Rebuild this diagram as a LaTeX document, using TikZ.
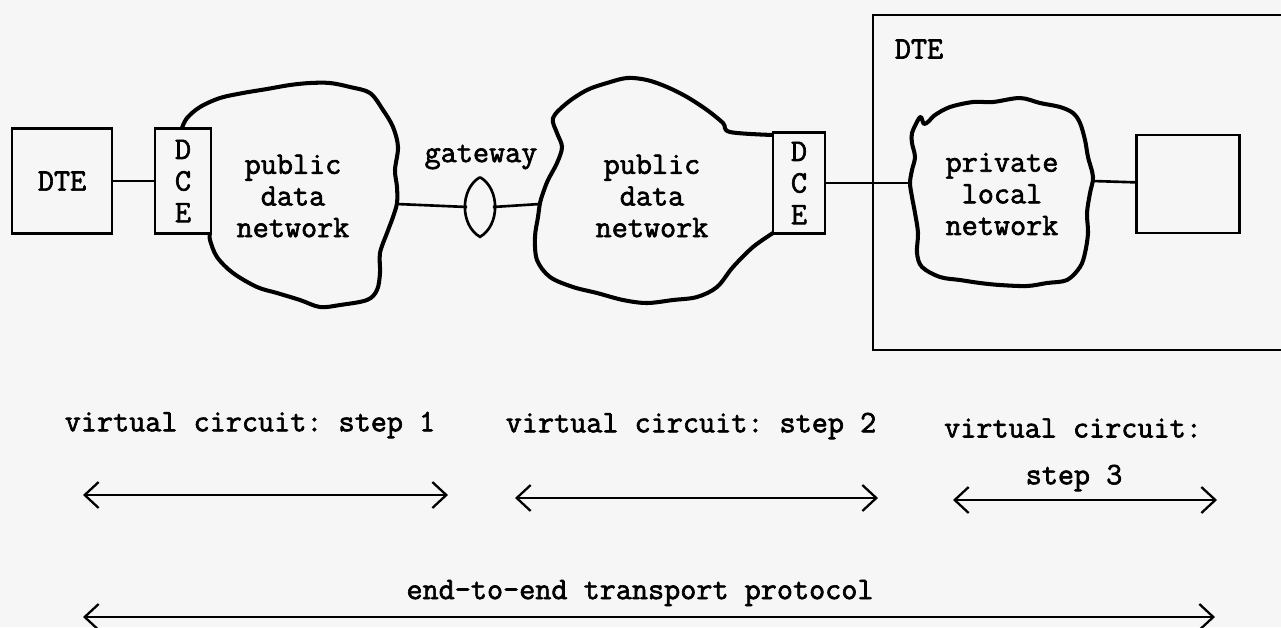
\documentclass[tikz,border=0pt]{standalone}
\usepackage{fontspec}
\usepackage{tikz}
\usetikzlibrary{arrows.meta,shapes.geometric}
\setmonofont{Latin Modern Mono}[FakeBold=2]
\definecolor{paper}{gray}{0.965}
\frenchspacing

\begin{document}
\begin{tikzpicture}[x=0.02cm, y=-0.02cm, font=\ttfamily\fontsize{17.8}{18}\selectfont]
        \tikzstyle{box}=[draw=black, line width=1.6pt, inner sep=0pt]
        \tikzstyle{wire}=[line width=1.5pt]
        \tikzstyle{cloud}=[line width=2.3pt, line join=round]
        \tikzstyle{annot}=[align=center, inner sep=0pt]
        \tikzstyle{vc}=[line width=1.3pt, >={Straight Barb[length=2.8mm,width=5.2mm,line width=1.3pt]}, <->]

        \fill[paper] (0,0) rectangle (1281,627);
        \useasboundingbox (0,0) rectangle (1281,627);

        % left end system and first public network
        \node[box, minimum width=2cm, minimum height=2.1cm] (dte) at (62,181) {DTE};
        \node[box, minimum width=1.12cm, minimum height=2.1cm, align=center] (dce-1) at (183,181) {D\\C\\E};
        \draw[cloud] plot[smooth, tension=0.55] coordinates {(182,128) (187,118) (200,107) (220,98) (243,93) (267,89) (290,85) (310,83) (330,83) (350,87) (370,93) (383,110) (393,127) (398,147) (395,170) (397,187) (397,203) (393,217) (387,233) (380,253) (380,273) (377,290) (367,300) (340,305) (320,307) (300,300) (277,293) (257,287) (233,273) (217,257) (210,240) (210,233)};
        \node[annot] (pdn-1) at (293,196) {public\\data\\network};
        \coordinate (pdn-1-e) at (397,204);

        % gateway between the two public networks
        \node[ellipse, minimum width=0.5cm, minimum height=1.18cm, inner sep=0pt] (gateway) at (480,207) {};
        \draw[wire] (gateway.north) to[bend right=60] (gateway.south) to[bend right=60] (gateway.north);
        \node[annot] (gateway-txt) at (481,157) {gateway};

        % second public network
        \draw[cloud] plot[smooth, tension=0.55] coordinates {(773,135) (730,132) (723,123) (707,110) (687,97) (667,87) (647,80) (627,78) (607,83) (587,90) (567,103) (553,118) (557,133) (562,147) (557,163) (548,180) (543,193) (540,203) (538,217) (535,237) (537,260) (550,277) (573,287) (597,293) (623,300) (647,303) (673,300) (697,297) (717,287) (733,267) (753,247) (773,233)};
        \node[annot] (pdn-2) at (652,196) {public\\data\\network};
        \coordinate (pdn-2-w) at (540,204);
        \node[box, minimum width=1.04cm, minimum height=2.02cm, align=center] (dce-2) at (799,183) {D\\C\\E};

        \draw[wire] (dte) -- (dce-1);
        \draw[wire] (pdn-1-e) -- (gateway.west);
        \draw[wire] (gateway.east) -- (pdn-2-w);

        % right end system with its private network
        \draw[box] (1281,15) -- (873,15) -- (873,350) -- (1281,350);
        \node[annot] (host) at (919,49) {DTE};
        \draw[cloud] plot[smooth cycle, tension=0.55] coordinates {(910,183) (912,170) (915,157) (912,143) (912,133) (918,120) (921,117) (924,124) (929,121) (935,115) (950,107) (973,102) (993,102) (1020,98) (1040,103) (1060,107) (1073,113) (1080,123) (1085,140) (1088,157) (1093,177) (1090,193) (1087,213) (1088,233) (1085,253) (1080,267) (1067,280) (1047,283) (1027,286) (1000,285) (980,283) (960,280) (940,277) (922,267) (917,253) (918,233) (915,213) (912,197)};
        \node[annot] (pln) at (1002,194) {private\\local\\network};
        \coordinate (pln-w) at (910,183);
        \coordinate (pln-e) at (1093,181);
        \node[box, minimum width=2.06cm, minimum height=1.96cm] (term) at (1188,184) {};

        \draw[wire] (dce-2) -- (pln-w);
        \draw[wire] (pln-e) -- (term);

        % virtual circuits and transport protocol
        \node[annot] (vc-1-txt) at (250,425) {virtual circuit: step 1};
        \node[annot] (vc-2-txt) at (691,426) {virtual circuit: step 2};
        \node[annot] (vc-3-txt) at (1073,428) {virtual circuit:};
        \node[annot] (vc-3-step) at (1074,478) {step 3};
        \foreach \name / \xa / \xb / \y in {1/83/448/495, 2/515/878/498, 3/953/1217/500}
        {
            \coordinate (vc-\name-l) at (\xa,\y);
            \coordinate (vc-\name-r) at (\xb,\y);
            \draw[vc] (vc-\name-l) -- (vc-\name-r);
        }
        \node[annot] (tp-txt) at (640,593) {end-to-end transport protocol};
        \coordinate (tp-l) at (83,617);
        \coordinate (tp-r) at (1215,617);
        \draw[vc] (tp-l) -- (tp-r);
    \end{tikzpicture}
\end{document}
